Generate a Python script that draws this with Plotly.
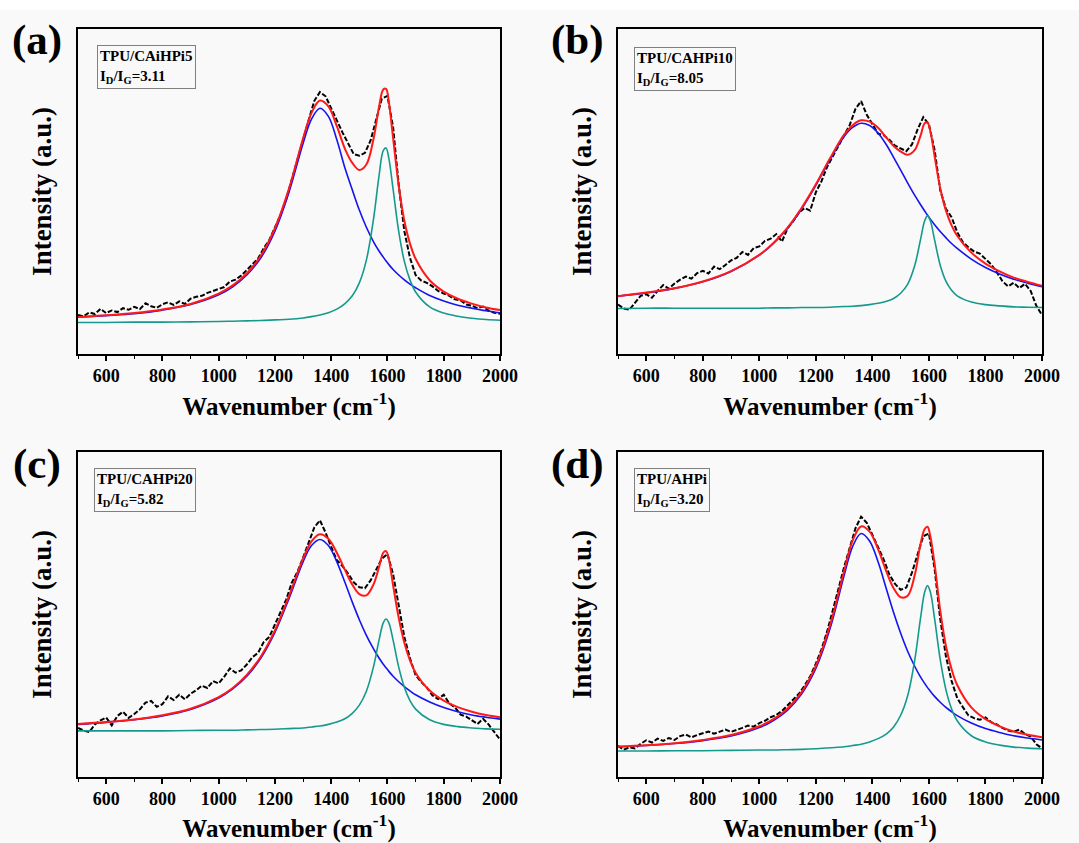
import plotly.graph_objects as go

# ---------------- data (intensity in arbitrary units) ----------------
DATA_X = [500, 520, 540, 560, 580, 600, 620, 640, 660, 680,
          700, 720, 740, 760, 780, 800, 820, 840, 860, 880,
          900, 920, 940, 960, 980, 1000, 1020, 1040, 1060, 1080,
          1100, 1120, 1140, 1160, 1180, 1200, 1220, 1240, 1260, 1280,
          1300, 1320, 1340, 1360, 1380, 1400, 1420, 1440, 1460, 1480,
          1500, 1520, 1540, 1560, 1580, 1600, 1620, 1640, 1660, 1680,
          1700, 1720, 1740, 1760, 1780, 1800, 1820, 1840, 1860, 1880,
          1900, 1920, 1940, 1960, 1980, 2000]

FIT_X = [500, 600, 700, 800, 900, 1000, 1050, 1100, 1150, 1200, 1250, 1300,
         1330, 1360, 1390, 1420, 1450, 1475, 1500, 1525, 1550, 1570, 1585, 1595,
         1605, 1620, 1640, 1660, 1680, 1700, 1750, 1800, 1850, 1900, 1950, 2000]

# (a) TPU/CAiHPi5
A_DATA = [12.0, 11.6, 12.8, 12.3, 13.9, 12.6, 13.4, 12.9, 14.1, 13.6,
          14.5, 13.8, 15.6, 14.7, 14.2, 15.3, 15.9, 15.1, 16.2, 15.4,
          17.0, 17.6, 17.9, 18.8, 19.4, 19.9, 20.6, 22.3, 22.9, 24.1,
          25.7, 27.6, 29.4, 32.5, 35.1, 38.9, 42.8, 47.6, 53.9, 59.8,
          66.0, 72.0, 77.9, 80.6, 79.3, 75.8, 71.9, 68.2, 64.9, 61.5,
          61.0, 61.9, 65.7, 72.1, 78.6, 79.4, 69.8, 52.0, 37.8, 29.6,
          24.3, 22.6, 21.9, 20.8, 19.4, 18.6, 17.9, 16.8, 16.5, 15.2,
          14.9, 14.1, 14.6, 13.3, 12.7, 12.4]
A_FIT = [11.4, 11.9, 12.6, 13.7, 15.4, 18.6, 21.1, 24.8, 30.3, 38.7, 50.9, 66.3,
         74.2, 78.0, 76.2, 70.1, 62.9, 58.8, 56.6, 58.3, 66.0, 76.0, 81.4, 81.6,
         77.5, 66.5, 51.8, 41.0, 34.0, 29.3, 22.7, 19.2, 17.0, 15.5, 14.3, 13.5]
A_DBAND = [11.3, 11.8, 12.4, 13.5, 15.2, 18.2, 20.7, 24.3, 29.6, 37.8, 49.8, 64.8,
           72.3, 75.6, 73.1, 65.9, 56.9, 50.5, 44.3, 39.0, 34.6, 31.7, 29.8, 28.6,
           27.5, 26.0, 24.3, 22.8, 21.5, 20.4, 18.0, 16.3, 15.0, 14.1, 13.3, 12.7]
A_GBAND = [9.7, 9.7, 9.8, 9.8, 9.9, 10.0, 10.1, 10.2, 10.3, 10.5, 10.7, 11.1,
           11.5, 12.0, 12.7, 13.8, 15.6, 17.9, 21.9, 28.9, 41.3, 54.8, 62.6, 63.4,
           60.2, 50.7, 37.7, 28.5, 22.8, 19.1, 14.5, 12.6, 11.6, 11.0, 10.6, 10.4]

# (b) TPU/CAHPi10
B_DATA = [15.2, 14.0, 13.6, 15.8, 17.9, 18.4, 17.3, 19.4, 21.2, 20.1,
          21.7, 22.9, 23.8, 23.2, 24.9, 25.6, 24.8, 26.9, 26.1, 27.4,
          28.8, 29.6, 31.4, 30.5, 32.6, 33.1, 34.8, 35.5, 36.9, 34.6,
          38.7, 40.9, 43.5, 44.9, 44.1, 49.8, 53.2, 57.6, 60.9, 63.8,
          67.2, 70.5, 75.4, 77.8, 73.6, 70.9, 67.8, 67.3, 65.9, 64.1,
          63.2, 62.4, 64.5, 69.1, 72.9, 70.6, 62.8, 50.4, 44.7, 42.1,
          37.5, 34.4, 32.8, 31.5, 30.9, 29.1, 27.6, 25.2, 22.4, 20.8,
          21.9, 20.3, 21.6, 19.4, 14.8, 12.0]
B_FIT = [17.8, 18.9, 20.2, 22.3, 25.5, 30.5, 34.2, 38.9, 45.0, 52.2, 60.2, 67.5,
         70.4, 71.9, 71.5, 69.6, 66.5, 64.0, 62.3, 61.3, 62.8, 67.1, 71.0, 71.2,
         68.5, 60.9, 51.0, 44.2, 39.6, 36.4, 31.2, 27.8, 25.4, 23.5, 22.2, 21.0]
B_DBAND = [17.8, 18.8, 20.2, 22.2, 25.4, 30.4, 34.0, 38.7, 44.7, 51.9, 59.8, 66.9,
           69.7, 71.0, 70.3, 68.0, 64.3, 60.5, 56.6, 52.6, 48.8, 46.0, 44.0, 42.7,
           41.5, 39.8, 37.7, 35.8, 34.0, 32.5, 29.2, 26.6, 24.6, 23.0, 21.8, 20.7]
B_GBAND = [14.0, 14.1, 14.1, 14.1, 14.1, 14.1, 14.2, 14.2, 14.3, 14.3, 14.4, 14.6,
           14.7, 14.9, 15.2, 15.6, 16.2, 17.1, 18.7, 21.5, 27.3, 35.1, 41.0, 42.5,
           41.0, 35.1, 27.3, 22.4, 19.6, 17.9, 16.0, 15.2, 14.8, 14.5, 14.4, 14.3]

# (c) TPU/CAHPi20
C_DATA = [15.1, 14.3, 13.8, 16.2, 17.4, 18.3, 15.9, 18.8, 20.1, 18.2,
          19.4, 20.8, 22.9, 23.4, 21.6, 22.4, 24.8, 23.7, 25.3, 23.9,
          25.6, 26.7, 28.1, 27.4, 29.5, 28.8, 30.9, 33.4, 32.1, 32.8,
          34.6, 36.9, 38.2, 41.5, 43.1, 46.9, 50.4, 54.6, 59.8, 63.1,
          67.5, 72.1, 76.8, 79.0, 75.2, 70.8, 66.7, 64.9, 62.6, 59.9,
          58.4, 58.1, 60.5, 63.8, 67.2, 68.6, 62.4, 52.8, 43.1, 36.5,
          31.4, 29.2, 27.5, 25.1, 24.0, 25.3, 22.6, 21.4, 19.2, 18.6,
          17.4, 16.3, 17.9, 16.1, 13.8, 11.5]
C_FIT = [16.3, 16.9, 17.7, 19.0, 21.0, 24.6, 27.4, 31.4, 37.1, 45.1, 55.7, 67.2,
         72.5, 74.7, 73.3, 69.0, 63.5, 59.2, 56.3, 55.9, 59.2, 64.6, 69.0, 69.5,
         67.0, 59.0, 49.0, 41.3, 35.9, 32.1, 26.6, 23.5, 21.5, 20.1, 19.1, 18.4]
C_DBAND = [16.2, 16.8, 17.6, 18.8, 20.8, 24.3, 27.1, 31.0, 36.6, 44.5, 54.9, 66.2,
           71.2, 73.1, 71.2, 66.2, 59.6, 53.8, 48.4, 43.6, 39.5, 36.6, 34.7, 33.6,
           32.5, 31.0, 29.3, 27.8, 26.5, 25.3, 23.1, 21.4, 20.1, 19.1, 18.4, 17.8]
C_GBAND = [14.2, 14.2, 14.2, 14.2, 14.3, 14.4, 14.4, 14.5, 14.6, 14.7, 14.9, 15.1,
           15.4, 15.7, 16.2, 16.9, 18.0, 19.6, 22.1, 26.4, 33.8, 42.1, 47.4, 48.6,
           47.4, 42.1, 33.8, 27.6, 23.5, 20.9, 17.6, 16.2, 15.5, 15.1, 14.8, 14.7]

# (d) TPU/AHPi
D_DATA = [9.6, 8.4, 9.1, 8.8, 10.2, 11.3, 10.6, 11.8, 11.1, 12.0,
          11.4, 12.6, 13.1, 12.2, 12.9, 13.4, 14.0, 13.3, 13.9, 14.6,
          13.9, 14.4, 15.1, 15.8, 15.5, 16.6, 17.3, 18.4, 19.1, 20.3,
          22.0, 23.9, 25.6, 28.1, 31.0, 34.9, 39.3, 44.8, 51.0, 57.9,
          64.6, 70.9, 76.5, 80.1, 78.2, 74.5, 70.8, 66.9, 62.3, 59.4,
          57.6, 58.3, 62.9, 68.4, 74.1, 74.9, 64.1, 48.6, 37.2, 29.6,
          24.3, 21.5, 18.9, 18.1, 17.6, 18.3, 16.9, 16.2, 15.1, 14.3,
          13.9, 14.6, 13.2, 12.4, 10.1, 8.8]
D_FIT = [9.4, 9.8, 10.4, 11.4, 12.9, 15.6, 17.8, 21.1, 26.2, 34.2, 46.7, 63.4,
         72.7, 77.1, 75.5, 70.1, 63.1, 58.1, 55.3, 55.8, 62.2, 71.6, 76.3, 77.0,
         74.0, 65.6, 51.2, 40.4, 33.2, 28.3, 21.4, 17.8, 15.6, 14.0, 13.0, 12.2]
D_DBAND = [9.3, 9.7, 10.3, 11.2, 12.6, 15.2, 17.4, 20.6, 25.6, 33.4, 45.6, 62.0,
           70.9, 74.9, 72.6, 66.2, 57.7, 50.6, 44.2, 38.6, 34.0, 30.8, 28.8, 27.5,
           26.4, 24.8, 23.0, 21.4, 20.1, 18.9, 16.6, 14.9, 13.7, 12.7, 12.0, 11.4]
D_GBAND = [8.0, 8.0, 8.1, 8.1, 8.2, 8.3, 8.3, 8.4, 8.5, 8.7, 9.0, 9.3,
           9.7, 10.1, 10.8, 11.8, 13.3, 15.4, 19.0, 25.1, 36.1, 48.7, 56.9, 58.9,
           56.9, 48.7, 36.1, 26.9, 21.0, 17.3, 12.7, 10.8, 9.8, 9.2, 8.9, 8.7]

PANEL_LABELS = ["(a)", "(b)", "(c)", "(d)"]
SAMPLES = ["TPU/CAiHPi5", "TPU/CAHPi10", "TPU/CAHPi20", "TPU/AHPi"]
RATIOS = ["3.11", "8.05", "5.82", "3.20"]
X_TITLE = "Wavenumber (cm<sup>-1</sup>)"
Y_TITLE = "Intensity (a.u.)"

# ---------------- styling / layout ----------------
W, H = 1079, 843
FONT = "Liberation Serif, Times New Roman, serif"
BG = "#f9f9f9"
RED, BLUE, TEAL = "#ff1a1a", "#1414f0", "#149a8c"

def px_x(v):
    return v / W

def px_y(v):
    return 1 - v / H

# panel boxes in pixels: left, right, top, bottom
BOXES = [(78, 500, 29, 354), (618, 1042, 29, 354),
         (78, 500, 452, 777), (618, 1042, 452, 777)]
LABEL_POS = [(37, 40), (577, 40), (37, 464), (577, 464)]
INFO_POS = [(97, 45), (634, 47), (94, 468), (634, 468)]

series = [(A_DATA, A_FIT, A_DBAND, A_GBAND),
          (B_DATA, B_FIT, B_DBAND, B_GBAND),
          (C_DATA, C_FIT, C_DBAND, C_GBAND),
          (D_DATA, D_FIT, D_DBAND, D_GBAND)]

fig = go.Figure()
layout = {}
annotations = []
for i, (data, fit, dband, gband) in enumerate(series):
    sfx = "" if i == 0 else str(i + 1)
    xa, ya = "x" + sfx, "y" + sfx
    fig.add_trace(go.Scatter(x=DATA_X, y=data, mode="lines", xaxis=xa, yaxis=ya,
                             line=dict(color="black", width=2, dash="5px,2px"),
                             showlegend=False, name="Raw"))
    fig.add_trace(go.Scatter(x=FIT_X, y=dband, mode="lines", xaxis=xa, yaxis=ya,
                             line=dict(color=BLUE, width=1.6, shape="spline"),
                             showlegend=False, name="D band"))
    fig.add_trace(go.Scatter(x=FIT_X, y=gband, mode="lines", xaxis=xa, yaxis=ya,
                             line=dict(color=TEAL, width=1.6, shape="spline"),
                             showlegend=False, name="G band"))
    fig.add_trace(go.Scatter(x=FIT_X, y=fit, mode="lines", xaxis=xa, yaxis=ya,
                             line=dict(color=RED, width=2, shape="spline"),
                             showlegend=False, name="Fit"))

    l, r, t, b = BOXES[i]
    layout["xaxis" + sfx] = dict(
        domain=[px_x(l), px_x(r)], anchor=ya, range=[500, 2000],
        showline=True, mirror=True, linecolor="black", linewidth=1.5,
        ticks="outside", ticklen=5, tickwidth=1.5, tickcolor="black",
        tick0=0, dtick=200,
        minor=dict(ticks="outside", ticklen=3, tickwidth=1.2, tickcolor="black",
                   tick0=0, dtick=100),
        showgrid=False, zeroline=False, automargin=False,
        tickfont=dict(family=FONT, size=18, color="black", weight="bold"),
        title=dict(text=X_TITLE, standoff=12,
                   font=dict(family=FONT, size=25, color="black", weight="bold")))
    layout["yaxis" + sfx] = dict(
        domain=[px_y(b), px_y(t)], anchor=xa, range=[0, 100],
        showline=True, mirror=True, linecolor="black", linewidth=1.5,
        ticks="", showticklabels=False, showgrid=False, zeroline=False,
        automargin=False,
        title=dict(text=Y_TITLE, standoff=17,
                   font=dict(family=FONT, size=27, color="black", weight="bold")))

    lx, ly = LABEL_POS[i]
    annotations.append(dict(text=PANEL_LABELS[i], xref="paper", yref="paper",
                            x=px_x(lx), y=px_y(ly), xanchor="center", yanchor="middle",
                            showarrow=False,
                            font=dict(family=FONT, size=43, color="black", weight="bold")))
    ix, iy = INFO_POS[i]
    annotations.append(dict(text=f"{SAMPLES[i]}<br>I<sub>D</sub>/I<sub>G</sub>={RATIOS[i]}",
                            xref="paper", yref="paper", x=px_x(ix), y=px_y(iy),
                            xanchor="left", yanchor="top", align="left", showarrow=False,
                            bordercolor="#808080", borderwidth=1, borderpad=2,
                            font=dict(family=FONT, size=15, color="black", weight="bold")))

fig.update_layout(
    width=W, height=H, margin=dict(l=0, r=0, t=0, b=0),
    paper_bgcolor=BG, plot_bgcolor=BG, showlegend=False,
    annotations=annotations,
    shapes=[dict(type="rect", xref="paper", yref="paper", x0=0, x1=1,
                 y0=px_y(10), y1=1, fillcolor="white", line=dict(width=0), layer="below")],
    **layout)

fig.write_html("out.html", config={"displayModeBar": False},
               post_script="document.body.style.margin='0';")
